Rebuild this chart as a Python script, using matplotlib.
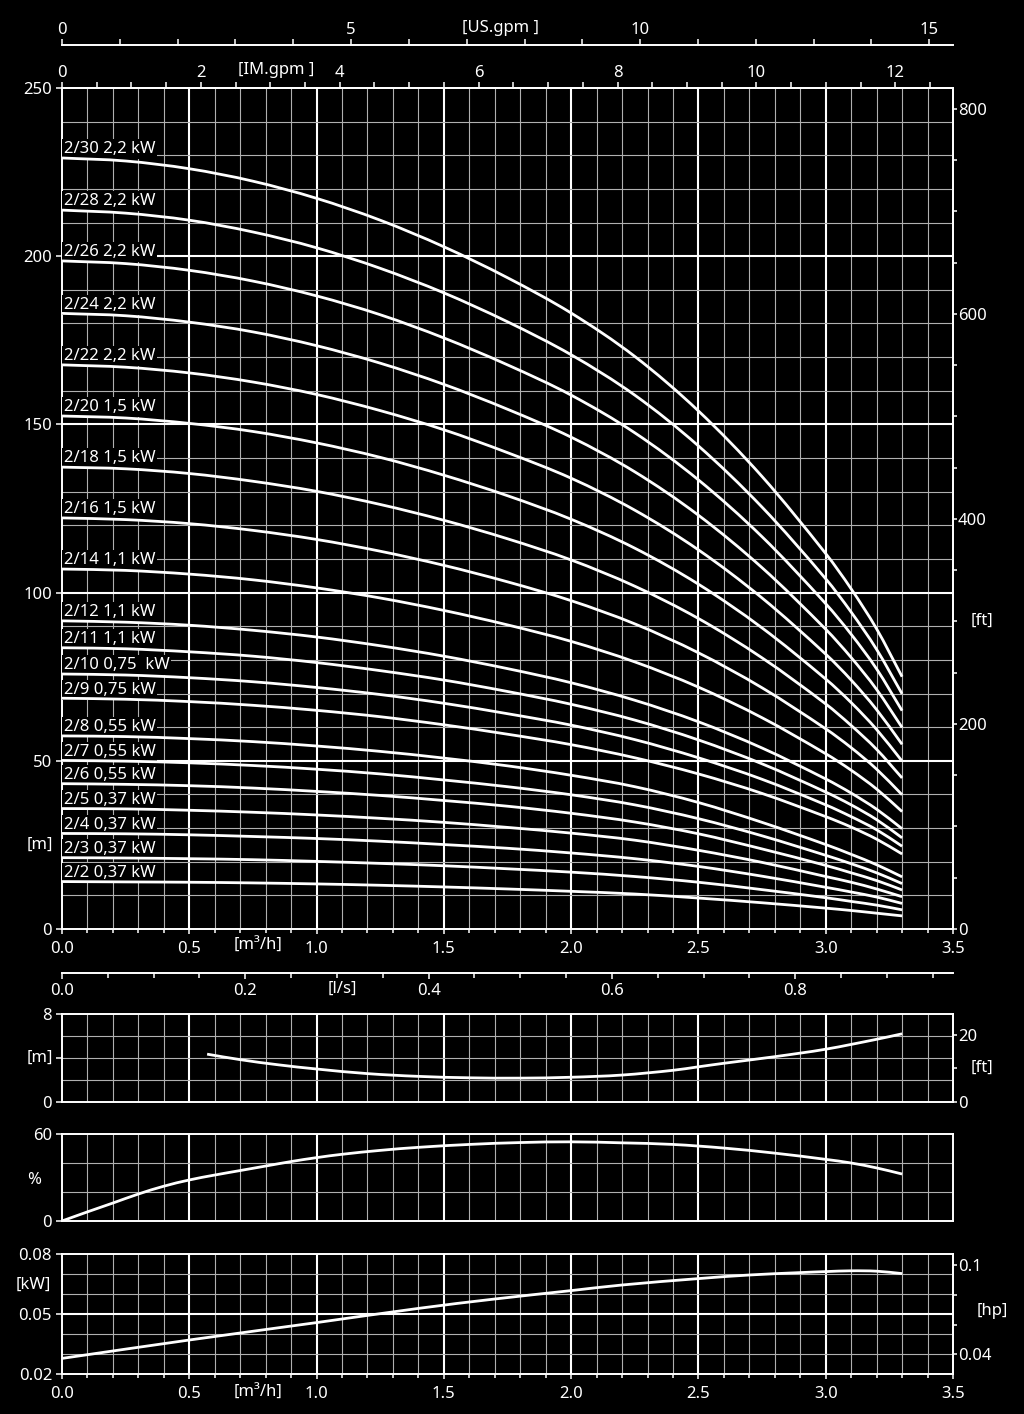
import numpy as np
import matplotlib
matplotlib.use("Agg")
import matplotlib.pyplot as plt
from matplotlib.ticker import MultipleLocator, NullLocator
from matplotlib.path import Path
from matplotlib.patches import PathPatch

plt.rcParams['font.family'] = ['Noto Sans', 'DejaVu Sans']

# ---------------- data ----------------
flow = [0, 0.25, 0.5, 0.75, 1.0, 1.25, 1.5, 1.75, 2.0, 2.25, 2.5, 2.75, 3.0, 3.1, 3.2, 3.3]  # m3/h

curve_labels = ["2/30 2,2 kW", "2/28 2,2 kW", "2/26 2,2 kW", "2/24 2,2 kW", "2/22 2,2 kW",
                "2/20 1,5 kW", "2/18 1,5 kW", "2/16 1,5 kW", "2/14 1,1 kW", "2/12 1,1 kW",
                "2/11 1,1 kW", "2/10 0,75  kW", "2/9 0,75 kW", "2/8 0,55 kW", "2/7 0,55 kW",
                "2/6 0,55 kW", "2/5 0,37 kW", "2/4 0,37 kW", "2/3 0,37 kW", "2/2 0,37 kW"]

head_30 = [229.2, 228.3, 226.0, 222.3, 217.2, 210.7, 202.8, 193.6, 183.1, 170.2, 154.0, 134.5, 111.6, 101.1, 89.2, 75.0]
head_28 = [213.7, 212.8, 210.7, 207.2, 202.5, 196.4, 189.1, 180.5, 170.7, 158.7, 143.6, 125.4, 104.1, 94.2, 83.1, 69.9]
head_26 = [198.6, 197.8, 195.8, 192.6, 188.2, 182.6, 175.7, 167.7, 158.7, 147.5, 133.5, 116.6, 96.7, 87.6, 77.3, 64.9]
head_24 = [183.0, 182.3, 180.4, 177.5, 173.4, 168.2, 161.9, 154.5, 146.2, 135.9, 123.0, 107.4, 89.1, 80.7, 71.2, 59.9]
head_22 = [167.7, 167.0, 165.3, 162.6, 158.9, 154.1, 148.4, 141.6, 134.0, 124.5, 112.7, 98.4, 81.7, 74.0, 65.2, 54.9]
head_20 = [152.5, 151.9, 150.3, 147.9, 144.5, 140.2, 134.9, 128.8, 121.8, 113.2, 102.5, 89.5, 74.3, 67.3, 59.3, 49.9]
head_18 = [137.3, 136.8, 135.4, 133.1, 130.1, 126.2, 121.5, 116.0, 109.7, 101.9, 92.3, 80.6, 66.9, 60.5, 53.4, 44.9]
head_16 = [122.2, 121.7, 120.5, 118.5, 115.8, 112.3, 108.1, 103.2, 97.6, 90.7, 82.1, 71.7, 59.5, 53.9, 47.5, 39.9]
head_14 = [107.0, 106.6, 105.5, 103.8, 101.4, 98.4, 94.7, 90.4, 85.5, 79.4, 71.9, 62.8, 52.1, 47.2, 41.6, 34.9]
head_12 = [91.6, 91.2, 90.3, 88.8, 86.8, 84.2, 81.1, 77.4, 73.2, 68.0, 61.6, 53.8, 44.6, 40.4, 35.6, 29.8]
head_11 = [83.6, 83.3, 82.4, 81.1, 79.2, 76.8, 74.0, 70.6, 66.8, 62.1, 56.2, 49.1, 40.7, 36.9, 32.5, 27.1]
head_10 = [75.8, 75.5, 74.7, 73.5, 71.8, 69.7, 67.1, 64.0, 60.6, 56.3, 50.9, 44.5, 36.9, 33.4, 29.5, 24.6]
head_9 = [68.6, 68.3, 67.6, 66.5, 65.0, 63.1, 60.7, 57.9, 54.8, 50.9, 46.1, 40.3, 33.4, 30.3, 26.7, 22.3]
head_8 = [57.4, 57.2, 56.6, 55.7, 54.4, 52.8, 50.8, 48.5, 45.7, 42.3, 37.6, 31.7, 25.1, 22.2, 19.1, 15.5]
head_7 = [50.1, 49.9, 49.4, 48.6, 47.5, 46.1, 44.3, 42.3, 39.9, 36.9, 32.8, 27.7, 21.9, 19.4, 16.7, 13.5]
head_6 = [43.2, 43.0, 42.6, 41.9, 40.9, 39.7, 38.2, 36.5, 34.4, 31.8, 28.3, 23.8, 18.9, 16.7, 14.4, 11.6]
head_5 = [35.8, 35.7, 35.3, 34.7, 33.9, 32.9, 31.7, 30.2, 28.5, 26.4, 23.4, 19.8, 15.6, 13.9, 11.9, 9.6]
head_4 = [28.4, 28.3, 28.0, 27.5, 26.9, 26.1, 25.1, 24.0, 22.6, 20.9, 18.6, 15.7, 12.4, 11.0, 9.5, 7.6]
head_3 = [21.2, 21.1, 20.9, 20.6, 20.1, 19.5, 18.8, 17.9, 16.9, 15.6, 13.9, 11.7, 9.3, 8.2, 7.1, 5.7]
head_2 = [14.1, 14.0, 13.9, 13.7, 13.4, 13.0, 12.5, 11.9, 11.2, 10.4, 9.2, 7.8, 6.2, 5.5, 4.7, 3.9]

heads = [head_30, head_28, head_26, head_24, head_22, head_20, head_18, head_16, head_14,
         head_12, head_11, head_10, head_9, head_8, head_7, head_6, head_5, head_4, head_3, head_2]

npsh_flow = [0.57, 0.7, 0.85, 1.0, 1.2, 1.4, 1.6, 1.8, 2.0, 2.2, 2.4, 2.5, 2.6, 2.8, 3.0, 3.2, 3.3]
npsh_m = [4.35, 3.85, 3.38, 3.0, 2.58, 2.33, 2.2, 2.17, 2.25, 2.45, 2.88, 3.2, 3.52, 4.12, 4.8, 5.7, 6.2]

eff_flow = [0, 0.1, 0.2, 0.3, 0.4, 0.5, 0.6, 0.7, 0.8, 0.9, 1.0, 1.1, 1.25, 1.4, 1.6, 1.8, 2.0, 2.2,
            2.4, 2.6, 2.8, 3.0, 3.1, 3.2, 3.3]
eff_pct = [0, 6.3, 12.4, 18.6, 24.0, 28.3, 31.7, 34.8, 37.9, 41.0, 43.7, 46.0, 48.7, 50.8, 52.8, 54.1,
           54.6, 53.9, 52.8, 50.3, 46.8, 42.5, 40.0, 36.6, 32.4]

pow_flow = [0, 0.5, 1.0, 1.4, 1.7, 2.0, 2.2, 2.5, 2.7, 2.9, 3.0, 3.1, 3.2, 3.3]
pow_kw = [0.0278, 0.037, 0.0457, 0.0528, 0.0575, 0.0617, 0.0645, 0.0677, 0.0695, 0.0707, 0.0712, 0.0716, 0.0714, 0.0702]

x_ticks = [0.0, 0.5, 1.0, 1.5, 2.0, 2.5, 3.0, 3.5]
us_ticks = [0, 5, 10, 15]
im_ticks = [0, 2, 4, 6, 8, 10, 12]
ls_ticks = [0.0, 0.2, 0.4, 0.6, 0.8]
ft_ticks = [0, 200, 400, 600, 800]

# unit conversions
M3H_PER_USGPM = 0.2271247
M3H_PER_IMGPM = 0.2727655
M3H_PER_LS = 3.6
M_PER_FT = 0.3048
KW_PER_HP = 0.7457

# ---------------- figure ----------------
W, H = 1024, 1414
FS = 12
FW = 'medium'
FG = 'white'
THIN = '#b0b0b0'

fig = plt.figure(figsize=(W / 100, H / 100), dpi=100, facecolor='black')


def axes_px(l, t, r, b):
    return fig.add_axes([l / W, 1 - b / H, (r - l) / W, (b - t) / H])


def style(ax):
    ax.set_facecolor('black')
    for s in ax.spines.values():
        s.set_color(FG)
        s.set_linewidth(1.4)
    ax.tick_params(colors=FG, labelsize=FS, width=1.1, which='both')
    for lab in ax.get_xticklabels() + ax.get_yticklabels():
        lab.set_fontweight(FW)


def draw_grid(ax, xmax, ystep, ymax, ymin=0.0, thick_every=None):
    for i in range(1, int(round(xmax * 10))):
        thick = (i % 5 == 0)
        ax.axvline(i / 10, color=FG if thick else THIN, lw=1.5 if thick else 0.8, zorder=1)
    n = int(round((ymax - ymin) / ystep))
    for j in range(1, n):
        y = ymin + j * ystep
        thick = thick_every is not None and abs((y / thick_every) - round(y / thick_every)) < 1e-6
        ax.axhline(y, color=FG if thick else THIN, lw=1.5 if thick else 0.8, zorder=1)


def smooth_curve(ax, xs, ys, lw=2.0):
    """Draw a smooth (cubic Hermite) line passing through every data point."""
    x = np.asarray(xs, float)
    y = np.asarray(ys, float)
    n = len(x)
    m = np.empty(n)
    m[0] = (y[1] - y[0]) / (x[1] - x[0])
    m[-1] = (y[-1] - y[-2]) / (x[-1] - x[-2])
    for i in range(1, n - 1):
        m[i] = (y[i + 1] - y[i - 1]) / (x[i + 1] - x[i - 1])
    verts = [(x[0], y[0])]
    codes = [Path.MOVETO]
    for i in range(n - 1):
        h = x[i + 1] - x[i]
        verts += [(x[i] + h / 3, y[i] + m[i] * h / 3),
                  (x[i + 1] - h / 3, y[i + 1] - m[i + 1] * h / 3),
                  (x[i + 1], y[i + 1])]
        codes += [Path.CURVE4] * 3
    ax.add_patch(PathPatch(Path(verts, codes), fill=False, edgecolor=FG, lw=lw,
                           capstyle='butt', zorder=5))


def ftext(px, py, s, **kw):
    fig.text(px / W, 1 - py / H, s, color=FG, fontsize=FS, fontweight=FW,
             ha='center', va='center', **kw)


# ---- main head chart ----
ax = axes_px(62, 88, 953, 929)
ax.set_xlim(0, 3.5)
ax.set_ylim(0, 250)
draw_grid(ax, 3.5, 10, 250, thick_every=50)

for h in heads:
    smooth_curve(ax, flow, h)
for lbl, h in zip(curve_labels, heads):
    ax.text(0.006, h[0] + 1.4, lbl, color=FG, fontsize=FS, fontweight=FW, ha='left', va='baseline',
            zorder=4, bbox=dict(facecolor='black', edgecolor='none', pad=1.5))

ax.set_xticks(x_ticks)
ax.set_xticklabels([f"{v:.1f}" for v in x_ticks])
ax.xaxis.set_minor_locator(MultipleLocator(0.1))
ax.set_yticks([0, 50, 100, 150, 200, 250])
style(ax)
ax.tick_params(axis='x', which='major', length=3.6, pad=4.7)
ax.tick_params(axis='x', which='minor', length=3)
ax.tick_params(axis='y', which='major', length=4.3, pad=2.9)

# right axis in ft
sec_ft = ax.secondary_yaxis('right', functions=(lambda m: m / M_PER_FT, lambda f: f * M_PER_FT))
sec_ft.set_yticks(ft_ticks)
sec_ft.yaxis.set_minor_locator(MultipleLocator(50))
style(sec_ft)
sec_ft.tick_params(which='both', length=3, pad=0.6)

# top IM.gpm axis
sec_im = ax.secondary_xaxis('top', functions=(lambda q: q / M3H_PER_IMGPM, lambda g: g * M3H_PER_IMGPM))
sec_im.set_xticks(im_ticks)
sec_im.xaxis.set_minor_locator(MultipleLocator(0.5))
style(sec_im)
sec_im.tick_params(which='both', length=4.2, pad=0.5)

# US.gpm axis above
loc_us = 1 + (88 - 45) / 841
sec_us = ax.secondary_xaxis(loc_us, functions=(lambda q: q / M3H_PER_USGPM, lambda g: g * M3H_PER_USGPM))
sec_us.set_xticks(us_ticks)
sec_us.xaxis.set_minor_locator(MultipleLocator(1))
style(sec_us)
sec_us.tick_params(which='both', length=4.2, pad=0.5)

# l/s axis below
loc_ls = -(972.7 - 929) / 841
sec_ls = ax.secondary_xaxis(loc_ls, functions=(lambda q: q / M3H_PER_LS, lambda l: l * M3H_PER_LS))
sec_ls.set_xticks(ls_ticks)
sec_ls.set_xticklabels([f"{v:.1f}" for v in ls_ticks])
sec_ls.xaxis.set_minor_locator(MultipleLocator(0.05))
style(sec_ls)
sec_ls.tick_params(which='major', length=4.2, pad=3.5)
sec_ls.tick_params(which='minor', length=3.6)

ftext(500, 28, "[US.gpm ]")
ftext(276, 70, "[IM.gpm ]")
ftext(258, 946, "[m³/h]")
ftext(342, 989, "[l/s]")
ftext(40, 845, "[m]")
ftext(982, 621, "[ft]")

# ---- NPSH panel ----
ax1 = axes_px(62, 1014, 953, 1102)
ax1.set_xlim(0, 3.5)
ax1.set_ylim(0, 8)
draw_grid(ax1, 3.5, 2, 8)
smooth_curve(ax1, npsh_flow, npsh_m)
ax1.xaxis.set_major_locator(NullLocator())
ax1.set_yticks([0, 4, 8])
ax1.set_yticklabels(['0', '', '8'])
style(ax1)
ax1.tick_params(axis='y', length=4.3, pad=2.9)
sec1 = ax1.secondary_yaxis('right', functions=(lambda m: m / M_PER_FT, lambda f: f * M_PER_FT))
sec1.set_yticks([0, 10, 20])
sec1.set_yticklabels(['0', '', '20'])
style(sec1)
sec1.tick_params(length=3, pad=0.6)
ftext(40, 1058, "[m]")
ftext(982, 1068, "[ft]")

# ---- efficiency panel ----
ax2 = axes_px(62, 1134, 953, 1221)
ax2.set_xlim(0, 3.5)
ax2.set_ylim(0, 60)
draw_grid(ax2, 3.5, 20, 60)
smooth_curve(ax2, eff_flow, eff_pct)
ax2.xaxis.set_major_locator(NullLocator())
ax2.set_yticks([0, 60])
style(ax2)
ax2.tick_params(axis='y', length=4.3, pad=2.9)
ftext(34, 1180, "%")

# ---- power panel ----
ax3 = axes_px(62, 1254, 953, 1374)
ax3.set_xlim(0, 3.5)
ax3.set_ylim(0.02, 0.08)
draw_grid(ax3, 3.5, 0.01, 0.08, ymin=0.02, thick_every=0.05)
smooth_curve(ax3, pow_flow, pow_kw)
ax3.set_xticks(x_ticks)
ax3.set_xticklabels([f"{v:.1f}" for v in x_ticks])
ax3.xaxis.set_minor_locator(MultipleLocator(0.1))
ax3.set_yticks([0.02, 0.05, 0.08])
ax3.set_yticklabels(['0.02', '0.05', '0.08'])
style(ax3)
ax3.tick_params(axis='x', which='major', length=3.6, pad=4.7)
ax3.tick_params(axis='x', which='minor', length=3)
ax3.tick_params(axis='y', length=4.3, pad=2.9)
sec3 = ax3.secondary_yaxis('right', functions=(lambda k: k / KW_PER_HP, lambda hp: hp * KW_PER_HP))
sec3.set_yticks([0.04, 0.06, 0.08, 0.1])
sec3.set_yticklabels(['0.04', '', '', '0.1'])
style(sec3)
sec3.tick_params(length=3, pad=0.6)
ftext(33, 1285, "[kW]")
ftext(992, 1311, "[hp]")
ftext(258, 1393, "[m³/h]")

fig.savefig("out.png", dpi=100, facecolor='black')
